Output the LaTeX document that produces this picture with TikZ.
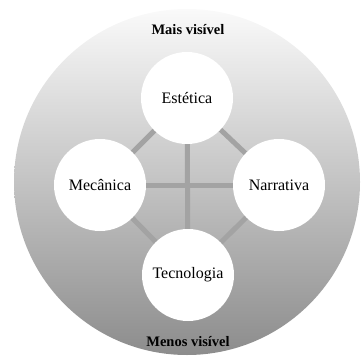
\documentclass[tikz,border=0pt]{standalone}
\usepackage{fontspec}
\setmainfont{Liberation Serif}

\tikzset{
  elem/.style={circle, fill=white, minimum size=92pt, inner sep=0pt, font=\fontsize{16}{18}\selectfont},
  link/.style={line width=5pt, color=black!36},
  tag/.style={font=\bfseries\fontsize{14.5}{16}\selectfont}
}

\begin{document}
\begin{tikzpicture}[x=1pt, y=-1pt]
  \useasboundingbox (0,0) rectangle (362,363);
  % Draw the big shaded circle
  \shade[top color=black!2, bottom color=black!45] (187,182) circle (173);
  \node[tag] (top) at (188,30) {Mais visível};
  \node[tag] (bottom) at (188,342) {Menos visível};
  % the four elements
  \coordinate (est) at (187,98);
  \coordinate (mec) at (100,185);
  \coordinate (nar) at (279,185);
  \coordinate (tec) at (188,275);
  \draw[link] (est) -- (mec);
  \draw[link] (est) -- (nar);
  \draw[link] (tec) -- (mec);
  \draw[link] (tec) -- (nar);
  \draw[link] (est) -- (tec);
  \draw[link] (mec) -- (nar);
  \node[elem] (estetica) at (est) {Estética};
  \node[elem] (mecanica) at (mec) {Mecânica};
  \node[elem] (narrativa) at (nar) {Narrativa};
  \node[elem] (tecnologia) at (tec) {Tecnologia};
\end{tikzpicture}
\end{document}
